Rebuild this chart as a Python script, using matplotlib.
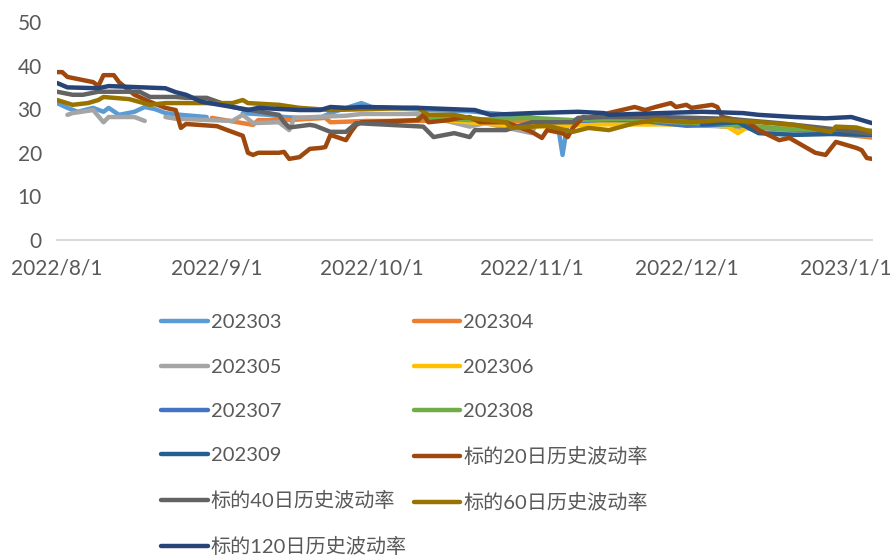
import numpy as np
import pandas as pd
import matplotlib
matplotlib.use("Agg")
import matplotlib.pyplot as plt
import matplotlib.dates as mdates
from matplotlib.ticker import FuncFormatter

plt.rcParams['font.family'] = ['Lato', 'Noto Sans CJK SC', 'DejaVu Sans']

start = pd.Timestamp('2022-08-01')
nan = np.nan

# each series: days after 2022/8/1, values
d303 = [0, 2, 4, 7, 9, 10, 12, 15, 17, 19, 21, 24, 29, 30, 36, 41, 44, 47, 51, 53, 59, 61, 72, 80, 90, 97, 98, 99, 105, 115, 125, 130, 140, 150, 158]
v303 = [31.4, 30.3, 29.4, 30.3, 29.4, 30.3, 28.7, 29.4, 30.5, 30.0, 29.1, 28.7, 28.2, nan, 29.1, 28.7, 28.2, 28.0, 28.0, 29.1, 31.4, 30.5, 29.8, 29.5, 28.5, 27.0, 19.5, 27.0, 27.5, 27.0, 26.5, 26.0, 25.5, 25.0, 24.5]

d304 = [30, 38, 39, 45, 52, 53, 60, 70, 80, 90, 100, 110, 120, 130, 140, 150, 158]
v304 = [28.0, 26.4, 27.5, 27.5, 28.0, 27.0, 27.3, 27.3, 27.5, 27.0, 27.0, 27.5, 27.0, 26.5, 25.0, 24.5, 23.5]

d305 = [2, 3, 7, 9, 10, 15, 17, 18, 21, 23, 34, 36, 38, 43, 45, 46, 50, 56, 59, 70, 80, 83, 92, 93, 100, 110, 120, 130, 140, 150, 158]
v305 = [28.7, 29.1, 29.8, 27.0, 28.2, 28.2, 27.3, nan, 28.2, 27.8, 27.3, 28.7, 26.8, 27.0, 25.2, 28.0, 28.2, 28.5, 28.9, 28.9, 26.0, 26.8, 24.5, 26.8, 26.5, 27.0, 26.5, 26.0, 25.0, 24.5, 24.0]

d306 = [75, 85, 95, 105, 115, 125, 130, 132, 134, 145, 158]
v306 = [27.5, 26.5, 26.0, 26.5, 26.5, 26.5, 26.0, 24.5, 26.0, 25.5, 25.0]

d307 = [95, 105, 112, 122, 130, 140, 150, 158]
v307 = [27.0, 27.5, 27.5, 26.2, 26.5, 25.5, 25.0, 25.0]

d308 = [70, 80, 92, 100, 110, 120, 130, 140, 158]
v308 = [28.0, 27.5, 28.0, 27.5, 27.8, 27.0, 26.5, 25.5, 25.0]

d309 = [125, 132, 136, 143, 150, 158]
v309 = [26.5, 27.0, 24.5, 24.1, 24.3, 24.1]

d20 = [0, 1, 2, 7, 8, 9, 11, 12, 15, 18, 21, 23, 24, 25, 31, 33, 36, 37, 38, 39, 43, 44, 45, 47, 49, 51, 52, 53, 56, 57, 58, 59, 70, 71, 72, 76, 78, 80, 82, 87, 92, 94, 95, 98, 99, 100, 102, 103, 108, 112, 114, 116, 119, 120, 122, 123, 127, 128, 129, 134, 136, 140, 142, 147, 149, 151, 155, 156, 157, 158]
v20 = [38.5, 38.5, 37.4, 36.2, 35.3, 37.8, 37.8, 36.2, 33.3, 31.7, 30.3, 29.8, 25.7, 26.6, 26.1, 25.2, 23.9, 20.0, 19.5, 20.0, 20.0, 20.2, 18.6, 19.0, 20.9, 21.1, 21.3, 24.1, 22.9, 24.8, 26.4, 27.0, 27.5, 28.7, 27.0, 27.5, 28.0, 28.2, 27.0, 27.0, 24.8, 23.4, 25.2, 24.5, 23.6, 25.7, 28.2, 28.0, 29.4, 30.5, 29.8, 30.5, 31.4, 30.5, 31.0, 30.3, 31.0, 30.5, 28.2, 27.0, 25.2, 22.9, 23.4, 20.0, 19.5, 22.5, 21.1, 20.6, 18.8, 18.6]

d40 = [0, 3, 5, 8, 16, 18, 23, 25, 29, 34, 43, 44, 45, 49, 50, 53, 56, 58, 71, 73, 77, 80, 81, 87, 92, 100, 101, 106, 117, 130, 140, 150, 158]
v40 = [34.0, 33.3, 33.3, 34.0, 34.0, 32.8, 32.8, 32.6, 32.6, 30.5, 28.7, 27.0, 25.8, 26.4, 26.2, 24.8, 24.8, 26.8, 26.0, 23.6, 24.5, 23.6, 25.2, 25.2, 27.0, 27.0, 28.0, 28.2, 28.2, 27.8, 26.8, 25.5, 24.3]

d60 = [0, 3, 6, 8, 9, 14, 18, 21, 25, 34, 36, 37, 43, 47, 53, 70, 72, 77, 80, 87, 88, 95, 100, 103, 107, 112, 116, 123, 129, 136, 143, 148, 150, 151, 155, 158]
v60 = [32.1, 31.0, 31.4, 32.1, 32.8, 32.3, 31.0, 31.4, 31.4, 31.4, 32.1, 31.4, 31.0, 30.3, 29.8, 30.3, 28.7, 28.7, 28.0, 27.0, 25.7, 26.2, 24.8, 25.7, 25.2, 26.8, 27.5, 27.0, 27.5, 27.0, 26.4, 25.2, 24.8, 26.0, 25.8, 24.8]

d120 = [0, 2, 8, 10, 21, 23, 25, 28, 34, 37, 39, 47, 51, 53, 56, 59, 70, 81, 84, 92, 101, 106, 107, 117, 125, 133, 136, 143, 149, 154, 156, 158]
v120 = [36.0, 35.0, 34.8, 35.3, 34.8, 33.9, 33.3, 31.7, 30.5, 29.8, 30.3, 29.8, 29.8, 30.5, 30.3, 30.5, 30.3, 29.8, 28.7, 29.1, 29.4, 29.1, 28.7, 29.1, 29.4, 29.1, 28.7, 28.2, 27.9, 28.2, 27.5, 26.8]

names = ['202303', '202304', '202305', '202306', '202307', '202308', '202309',
         '标的20日历史波动率', '标的40日历史波动率', '标的60日历史波动率', '标的120日历史波动率']
days = [d303, d304, d305, d306, d307, d308, d309, d20, d40, d60, d120]
vals = [v303, v304, v305, v306, v307, v308, v309, v20, v40, v60, v120]
colors = ['#5B9BD5', '#ED7D31', '#A5A5A5', '#FFC000', '#4472C4', '#70AD47',
          '#255E91', '#9E480E', '#636363', '#997300', '#264478']

month_ticks = ['2022-08-01', '2022-09-01', '2022-10-01', '2022-11-01', '2022-12-01', '2023-01-01']

fig = plt.figure(figsize=(8.92, 5.59), dpi=100)
ax = fig.add_axes([0.064, 0.5707, 0.9136, 0.39])

lines = {}
for name, d, v, c in zip(names, days, vals, colors):
    x = start + pd.to_timedelta(d, unit='D')
    ln, = ax.plot(x, v, color=c, lw=3.2, solid_capstyle='round', solid_joinstyle='round', label=name)
    lines[name] = ln

ax.set_xlim(start, start + pd.Timedelta(days=158))
ax.set_ylim(0, 50)
ax.set_yticks([0, 10, 20, 30, 40, 50])
ax.set_xticks(pd.to_datetime(month_ticks))
ax.xaxis.set_major_formatter(FuncFormatter(
    lambda x, pos: '{0}/{1}/{2}'.format(mdates.num2date(x).year, mdates.num2date(x).month, mdates.num2date(x).day)))
ax.tick_params(axis='both', length=0, labelsize=15, colors='#595959')
ax.tick_params(axis='x', pad=13)
ax.tick_params(axis='y', pad=11)
for s in ['top', 'right', 'left']:
    ax.spines[s].set_visible(False)
ax.spines['bottom'].set_color('#D9D9D9')
ax.spines['bottom'].set_linewidth(1.5)

# legend, Excel order row by row -> column-major for matplotlib
order = ['202303', '202305', '202307', '202309', '标的40日历史波动率', '标的120日历史波动率',
         '202304', '202306', '202308', '标的20日历史波动率', '标的60日历史波动率']
leg = fig.legend([lines[n] for n in order], order, ncol=2, loc='upper left',
                 bbox_to_anchor=(0.172, 0.452), frameon=False, fontsize=14.5,
                 handlelength=2.3, handletextpad=0.15, columnspacing=0.35,
                 labelspacing=1.34, borderaxespad=0)
for t in leg.get_texts():
    t.set_color('#595959')

plt.savefig('out.png', dpi=100)
